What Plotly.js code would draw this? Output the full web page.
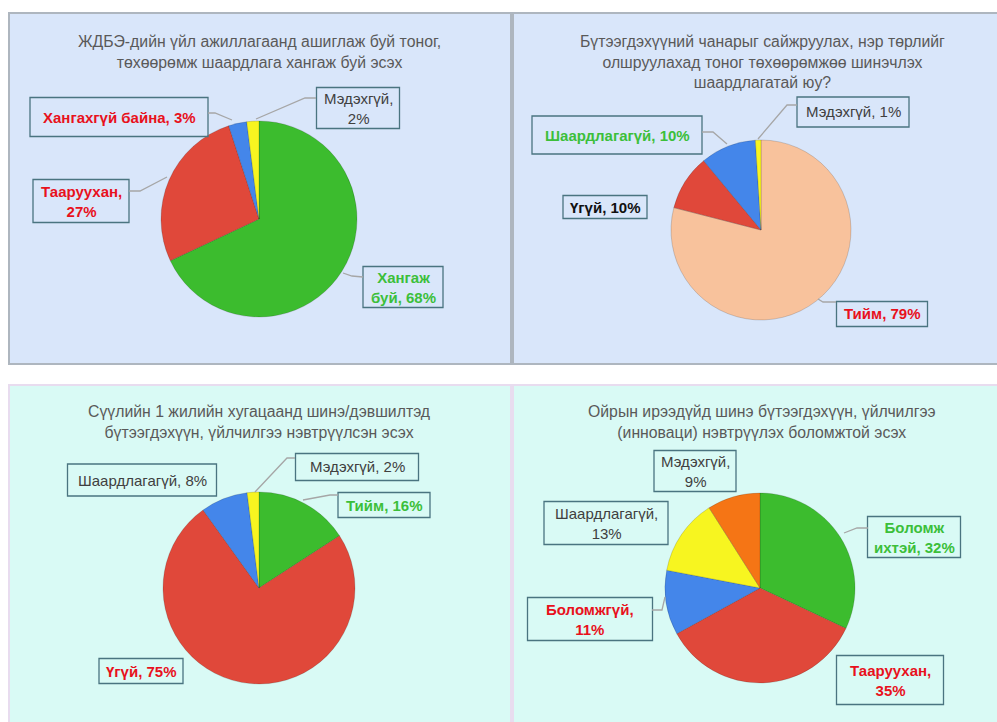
<!DOCTYPE html>
<html>
<head>
<meta charset="utf-8">
<script src="https://cdn.plot.ly/plotly-3.0.1.min.js"></script>
<style>html,body{margin:0;padding:0;background:#fff;}#chart{width:997px;height:722px;}</style>
</head>
<body>
<div id="chart"></div>
<script>
// ---- Data ----
const titles = [
  "ЖДБЭ-дийн үйл ажиллагаанд ашиглаж буй тоног,<br>төхөөрөмж шаардлага хангаж буй эсэх",
  "Бүтээгдэхүүний чанарыг сайжруулах, нэр төрлийг<br>олшруулахад тоног төхөөрөмжөө шинэчлэх<br>шаардлагатай юу?",
  "Сүүлийн 1 жилийн хугацаанд шинэ/дэвшилтэд<br>бүтээгдэхүүн, үйлчилгээ нэвтрүүлсэн эсэх",
  "Ойрын ирээдүйд шинэ бүтээгдэхүүн, үйлчилгээ<br>(инноваци) нэвтрүүлэх боломжтой эсэх"
];
const labels1 = ["Хангаж буй", "Тааруу\u0445ан", "Хангахгүй байна", "Мэдэхгүй"];
const values1 = [68, 27, 3, 2];
const labels2 = ["Тийм", "Үгүй", "Шаардлагагүй", "Мэдэхгүй"];
const values2 = [79, 10, 10, 1];
const labels3 = ["Тийм", "Үгүй", "Шаардлагагүй", "Мэдэхгүй"];
const values3 = [16, 75, 8, 2];
const labels4 = ["Боломж ихтэй", "Тааруу\u0445ан", "Боломжгүй", "Шаардлагагүй", "Мэдэхгүй"];
const values4 = [32, 35, 11, 13, 9];

// ---- Styles ----
const W = 997, H = 722;
const GREEN = "#3cbc2e", RED = "#e0483a", BLUE = "#4486ea", YELLOW = "#f7f520", PEACH = "#f8c29c", ORANGE = "#f57515";
const colors1 = [GREEN, RED, BLUE, YELLOW];
const colors2 = [PEACH, RED, BLUE, YELLOW];
const colors3 = [GREEN, RED, BLUE, YELLOW];
const colors4 = [GREEN, RED, BLUE, YELLOW, ORANGE];

const px = x => x / W;
const py = y => (H - y) / H;

// pie geometry in pixels: [cx, cy, r]
const geo = [[259, 219, 98], [761, 230, 90], [259, 588, 96], [760, 588, 95]];
const datasets = [[labels1, values1, colors1], [labels2, values2, colors2], [labels3, values3, colors3], [labels4, values4, colors4]];

const traces = datasets.map((d, i) => {
  const [cx, cy, r] = geo[i];
  return {
    type: "pie",
    labels: d[0], values: d[1],
    sort: false, direction: "clockwise", rotation: 0,
    marker: {colors: d[2], line: {color: "rgba(0,0,0,0.15)", width: 1}},
    textinfo: "none", hoverinfo: "label+percent",
    domain: {x: [px(cx - r), px(cx + r)], y: [py(cy + r), py(cy - r)]},
    showlegend: false
  };
});

const RED_T = "#e8111c", GREEN_T = "#3cbf3a", GREY_T = "#404040", BLACK_T = "#111111";
// label box text built from the data arrays: [dataset, index, line-break after name, color, bold, cx, cy, w, h]
const lbl = (labs, vals, i, br) => {
  const name = labs[i];
  if (br === "name") return name + ",<br>" + vals[i] + "%";
  if (br === "word") { const w = name.split(" "); return w[0] + "<br>" + w.slice(1).join(" ") + ", " + vals[i] + "%"; }
  return name + ", " + vals[i] + "%";
};
const boxes = [
  [lbl(labels1, values1, 2), RED_T, true, 119, 117, 178, 39],
  [lbl(labels1, values1, 3, "name"), GREY_T, false, 358, 108, 83, 41],
  [lbl(labels1, values1, 1, "name"), RED_T, true, 81, 201, 96, 43],
  [lbl(labels1, values1, 0, "word"), GREEN_T, true, 403, 287, 80, 41],

  [lbl(labels2, values2, 3), GREY_T, false, 853, 112, 112, 30],
  [lbl(labels2, values2, 2), GREEN_T, true, 617, 135, 170, 38],
  [lbl(labels2, values2, 1), BLACK_T, true, 605, 207, 84, 23],
  [lbl(labels2, values2, 0), RED_T, true, 882, 314, 91, 25],

  [lbl(labels3, values3, 2), GREY_T, false, 142, 480, 149, 32],
  [lbl(labels3, values3, 3), GREY_T, false, 357, 467, 123, 27],
  [lbl(labels3, values3, 0), GREEN_T, true, 384, 505, 92, 25],
  [lbl(labels3, values3, 1), RED_T, true, 141, 671, 84, 25],

  [lbl(labels4, values4, 4, "name"), GREY_T, false, 695, 471, 82, 41],
  [lbl(labels4, values4, 3, "name"), GREY_T, false, 606, 523, 124, 43],
  [lbl(labels4, values4, 0, "word"), GREEN_T, true, 914, 537, 93, 41],
  [lbl(labels4, values4, 2, "name"), RED_T, true, 590, 619, 125, 43],
  [lbl(labels4, values4, 1, "name"), RED_T, true, 890, 680, 107, 49]
];

const FONT = "Liberation Sans, Arial, sans-serif";
const annotations = [];
const shapes = [];

// panels
const panels = [
  [9, 13, 511, 364, "#d9e6fa", "#aeb6bf"],
  [513, 13, 1005, 364, "#d9e6fa", "#aeb6bf"],
  [9, 385, 511, 730, "#d9faf5", "#e8dcef"],
  [513, 385, 1005, 730, "#d9faf5", "#e8dcef"]
];
panels.forEach(p => shapes.push({type: "rect", xref: "paper", yref: "paper", layer: "below",
  x0: px(p[0]), x1: px(p[2]), y0: py(p[3]), y1: py(p[1]),
  fillcolor: p[4], line: {color: p[5], width: 2}}));

// titles
const titlePos = [[259, 52], [762, 62], [259, 422], [762, 422]];
titles.forEach((t, i) => annotations.push({text: t, xref: "paper", yref: "paper",
  x: px(titlePos[i][0]), y: py(titlePos[i][1]), xanchor: "center", yanchor: "middle",
  showarrow: false, font: {family: FONT, size: 15.8, color: "#595959"}}));

boxes.forEach(b => {
  const [t, c, bold, cx, cy, w, h] = b;
  shapes.push({type: "rect", xref: "paper", yref: "paper",
    x0: px(cx - w / 2), x1: px(cx + w / 2), y0: py(cy + h / 2), y1: py(cy - h / 2),
    line: {color: "#4a7480", width: 1.3}, fillcolor: "rgba(0,0,0,0)"});
  annotations.push({text: bold ? "<b>" + t + "</b>" : t, xref: "paper", yref: "paper",
    x: px(cx), y: py(cy), xanchor: "center", yanchor: "middle", showarrow: false, align: "center",
    font: {family: FONT, size: 15, color: c}});
});

// leader lines (pixel polylines)
const leaders = [
  [[208, 113], [215, 113], [232, 120]],
  [[316, 98], [305, 98], [256, 119]],
  [[129, 191], [140, 191], [167, 177]],
  [[363, 277], [352, 276], [343, 273]],
  [[797, 105], [787, 105], [758, 139]],
  [[702, 132], [713, 132], [727, 144]],
  [[836, 302], [823, 302], [818, 299]],
  [[295, 458], [287, 458], [255, 492]],
  [[338, 495], [330, 495], [303, 500]],
  [[868, 528], [857, 528], [844, 533]],
  [[652, 610], [662, 610], [665, 597]]
];
leaders.forEach(l => {
  const path = l.map((p, k) => (k ? "L" : "M") + px(p[0]) + "," + py(p[1])).join(" ");
  shapes.push({type: "path", xref: "paper", yref: "paper", path: path, line: {color: "#a6a6a6", width: 1.3}});
});

const layout = {
  width: W, height: H, margin: {l: 0, r: 0, t: 0, b: 0},
  paper_bgcolor: "#ffffff", plot_bgcolor: "#ffffff",
  shapes: shapes, annotations: annotations, showlegend: false
};
Plotly.newPlot("chart", traces, layout, {displayModeBar: false, staticPlot: true});
</script>
</body>
</html>
